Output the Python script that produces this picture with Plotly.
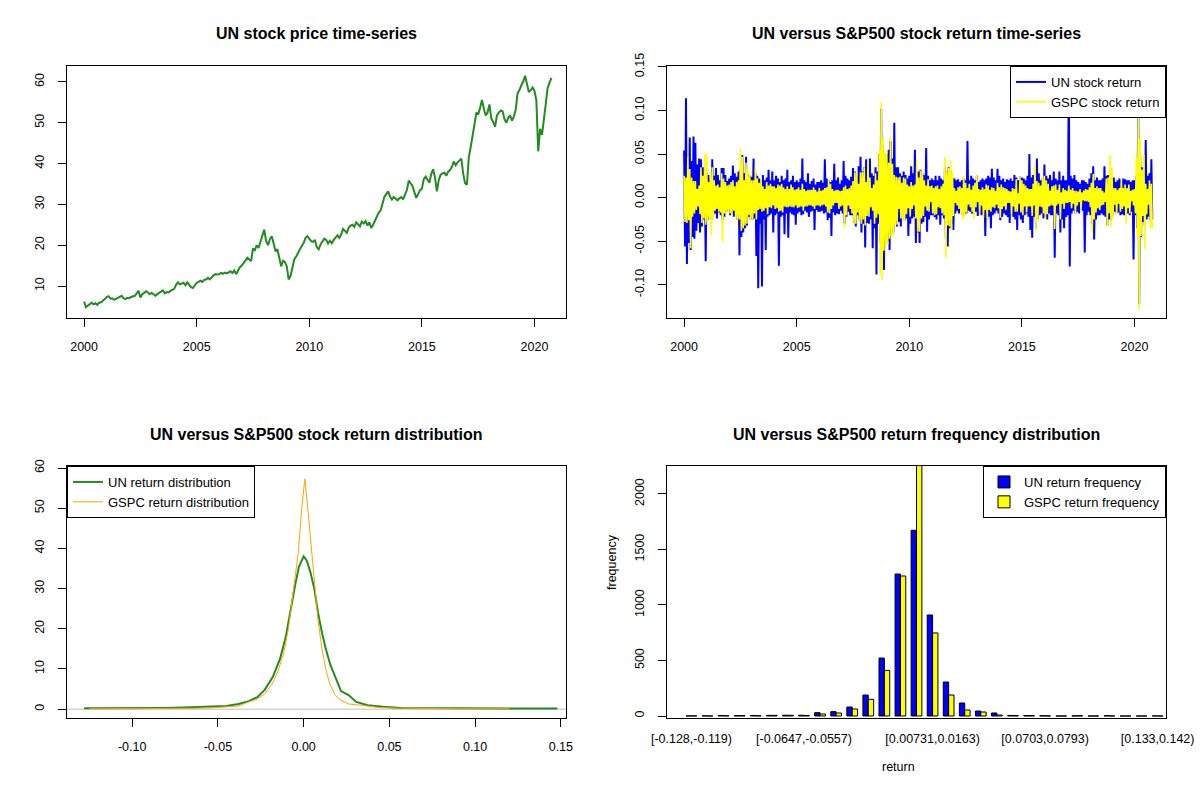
import pandas as pd
import plotly.graph_objects as go

# meses desde ene 2000 hasta oct 2020 (un valor por mes)
meses = pd.date_range("2000-01-01", "2020-10-01", freq="MS")
anio = list(meses.year + (meses.month - 1) / 12)

# precio UN aproximado de cada mes
precio_un = [
    6.2, 4.8, 5.2, 5.6, 5.9, 5.5, 5.8, 5.4, 5.9, 6.0, 6.3, 6.8,
    7.3, 7.5, 6.9, 7.0, 6.6, 6.9, 7.2, 7.4, 7.6, 7.0, 6.8, 7.1,
    7.0, 7.3, 7.4, 7.6, 8.2, 8.8, 7.2, 8.0, 8.3, 8.7, 8.4, 8.0,
    8.3, 7.9, 7.6, 8.0, 8.4, 8.6, 8.9, 8.2, 8.5, 8.4, 8.8, 9.0,
    9.3, 10.3, 10.9, 10.4, 10.6, 10.8, 10.2, 10.9, 10.3, 9.7, 9.5, 10.3,
    10.8, 11.0, 11.3, 11.0, 11.5, 11.6, 12.0, 11.6, 12.2, 12.6, 12.9, 12.8,
    12.9, 13.2, 13.0, 13.3, 13.1, 13.4, 13.6, 13.2, 13.8, 12.9, 13.9, 14.6,
    15.0, 15.6, 16.4, 16.9, 16.5, 16.1, 19.2, 18.8, 20.0, 19.3, 20.9, 22.5,
    23.8, 21.0, 20.0, 21.5, 22.2, 20.4, 18.5, 19.0, 16.4, 14.8, 16.2, 15.9,
    14.8, 11.6, 12.5, 14.5, 16.5, 17.2, 18.3, 19.0, 19.8, 20.5, 21.8, 22.2,
    21.6, 21.0, 20.8, 21.3, 19.5, 19.0, 20.2, 20.8, 21.6, 21.3, 20.4, 21.1,
    20.5, 21.3, 21.9, 22.4, 21.8, 22.6, 24.0, 23.6, 23.0, 24.3, 24.8, 25.0,
    24.5, 25.6, 25.0, 24.6, 25.8, 25.3, 25.9, 24.8, 25.6, 24.2, 25.0, 26.0,
    26.8, 28.0, 28.5, 30.5, 31.8, 32.5, 33.2, 31.9, 31.2, 31.8, 31.3, 31.0,
    31.5, 31.8, 31.2, 32.3, 33.5, 35.8, 35.2, 34.5, 33.0, 31.6, 32.5, 33.5,
    33.8, 36.2, 36.8, 36.0, 35.3, 37.5, 38.6, 36.5, 33.2, 36.0, 37.3, 37.6,
    37.8, 37.0, 38.0, 38.4, 39.2, 40.5, 39.6, 40.3, 40.8, 41.2, 37.6, 35.2,
    34.8, 41.5, 44.0, 46.5, 49.5, 52.5, 52.0, 53.6, 55.6, 53.5, 51.8, 52.5,
    54.5, 51.0, 50.2, 49.0, 51.8, 52.5, 53.0, 52.8, 50.9, 50.0, 51.2, 51.8,
    50.5, 51.5, 53.2, 57.2, 58.0, 59.2, 60.1, 61.5, 59.5, 57.5, 58.0, 58.6,
    57.8, 55.5, 43.0, 48.5, 47.0, 51.5, 54.5, 58.5, 59.8, 61.0,
]

# retornos diarios: maximo y minimo de cada mes (en %)
un_max = [
    5.4, 11.4, 4.6, 6.9, 4.2, 7.0, 6.3, 3.8, 4.5, 4.4, 3.5, 2.8,
    2.8, 2.6, 2.2, 4.4, 2.5, 3.4, 2.6, 2.0, 3.4, 3.4, 2.6, 1.9,
    2.2, 2.5, 3.7, 2.8, 2.4, 3.0, 3.2, 4.9, 2.8, 4.7, 2.7, 2.5,
    2.4, 4.5, 2.8, 2.5, 2.2, 2.0, 2.6, 2.0, 2.3, 3.2, 2.0, 3.0,
    2.0, 2.5, 2.2, 1.8, 2.5, 2.0, 2.2, 3.2, 1.8, 2.0, 2.5, 1.8,
    2.0, 1.8, 2.2, 4.5, 2.0, 1.8, 2.8, 1.6, 1.9, 2.2, 1.5, 1.8,
    1.8, 2.0, 1.7, 4.4, 2.2, 2.0, 1.8, 2.0, 3.9, 2.0, 2.3, 1.6,
    2.0, 4.2, 2.5, 2.2, 2.0, 2.4, 3.4, 3.0, 2.5, 3.6, 4.7, 3.0,
    3.5, 4.4, 3.0, 4.5, 2.8, 2.5, 3.5, 3.0, 5.0, 10.2, 6.0, 4.0,
    5.0, 5.5, 6.5, 4.5, 8.6, 3.5, 3.5, 2.8, 2.5, 3.0, 2.6, 2.2,
    2.5, 3.6, 2.8, 5.5, 3.0, 3.0, 3.2, 2.8, 2.6, 5.7, 2.5, 2.0,
    2.2, 2.0, 2.5, 2.0, 2.5, 2.2, 2.0, 3.5, 3.0, 3.5, 3.0, 2.3,
    2.2, 2.0, 2.1, 1.8, 2.0, 2.2, 2.0, 6.5, 2.0, 2.5, 2.2, 2.0,
    2.5, 1.8, 2.0, 2.2, 2.0, 2.2, 2.5, 2.3, 3.3, 2.3, 2.0, 3.3,
    2.5, 2.0, 2.2, 1.8, 2.1, 2.0, 2.2, 1.9, 2.6, 2.3, 2.0, 2.4,
    2.3, 2.2, 2.0, 2.5, 5.0, 2.3, 2.6, 3.0, 4.5, 2.8, 2.0, 2.2,
    3.8, 2.5, 2.2, 2.6, 2.0, 3.0, 2.2, 2.0, 3.0, 2.0, 2.5, 2.0,
    2.0, 14.0, 2.5, 2.2, 2.6, 2.0, 1.8, 1.6, 2.0, 2.0, 1.8, 1.6,
    2.2, 2.8, 3.6, 2.0, 2.3, 2.0, 2.0, 2.2, 3.6, 2.5, 2.6, 2.6,
    2.4, 2.3, 1.8, 2.0, 2.2, 2.0, 2.2, 2.1, 2.0, 2.0, 1.8, 2.0,
    2.0, 2.5, 10.5, 5.0, 3.5, 3.0, 6.6, 2.5, 2.8, 4.4,
]
un_min = [
    -5.6, -7.6, -5.2, -6.0, -4.5, -4.7, -3.8, -2.9, -4.0, -3.3, -2.5, -7.3,
    -2.6, -2.3, -2.5, -2.0, -1.8, -2.4, -1.7, -2.0, -2.6, -2.2, -1.6, -1.5,
    -2.0, -1.8, -2.2, -2.0, -2.5, -6.6, -4.5, -4.0, -3.5, -3.2, -2.2, -2.5,
    -2.5, -2.4, -6.7, -10.4, -3.0, -10.2, -2.5, -6.0, -2.2, -2.0, -1.8, -4.0,
    -2.0, -1.8, -7.8, -2.2, -2.0, -4.2, -1.8, -4.6, -1.7, -1.9, -2.0, -3.1,
    -1.8, -1.6, -2.0, -1.9, -1.5, -1.7, -2.2, -1.6, -1.5, -3.7, -1.4, -1.6,
    -1.6, -1.5, -1.8, -1.7, -2.6, -2.3, -4.4, -1.7, -2.0, -1.8, -1.9, -1.5,
    -1.8, -3.0, -2.2, -1.6, -2.0, -2.0, -2.9, -3.3, -2.0, -2.6, -4.0, -3.0,
    -5.7, -2.9, -3.0, -2.5, -5.8, -3.5, -8.8, -3.0, -5.0, -6.5, -8.3, -4.5,
    -5.0, -6.0, -4.0, -4.0, -3.0, -3.3, -2.8, -3.3, -2.2, -2.6, -2.4, -4.4,
    -3.0, -2.4, -2.2, -5.2, -4.0, -5.2, -3.0, -2.8, -2.2, -3.9, -2.5, -2.0,
    -2.0, -2.2, -2.5, -2.0, -3.1, -2.0, -2.4, -4.8, -5.6, -3.5, -3.0, -3.7,
    -1.8, -1.5, -1.8, -1.4, -2.0, -1.9, -1.8, -1.5, -1.6, -1.8, -1.9, -1.6,
    -2.1, -1.8, -2.0, -2.0, -4.4, -2.5, -2.2, -3.5, -2.0, -1.8, -1.5, -1.8,
    -2.6, -2.2, -1.8, -2.0, -2.2, -2.9, -2.0, -2.2, -2.5, -3.7, -2.0, -2.5,
    -2.9, -2.0, -1.8, -2.2, -3.7, -4.6, -2.2, -3.5, -2.5, -2.0, -1.8, -2.4,
    -2.2, -2.5, -1.8, -2.0, -2.0, -6.9, -1.8, -2.0, -4.0, -2.5, -3.5, -2.2,
    -2.0, -7.9, -1.8, -1.5, -1.8, -1.6, -1.8, -1.4, -1.5, -6.3, -2.0, -1.6,
    -2.0, -3.0, -4.8, -2.5, -2.0, -2.0, -1.8, -2.0, -2.2, -3.2, -2.5, -2.6,
    -2.0, -1.6, -1.8, -1.7, -2.0, -1.9, -2.0, -2.1, -1.8, -2.0, -1.6, -7.1,
    -2.0, -3.5, -12.2, -4.5, -2.8, -3.2, -2.5, -2.2, -2.6, -2.5,
]
gspc_max = [
    2.5, 2.3, 4.7, 3.3, 2.3, 1.9, 1.9, 1.0, 1.4, 3.5, 2.5, 5.0,
    4.9, 1.8, 2.8, 3.5, 2.0, 1.4, 1.5, 1.2, 2.8, 2.2, 1.8, 1.4,
    1.5, 1.8, 2.0, 1.3, 1.8, 2.0, 5.6, 4.7, 2.0, 4.0, 3.2, 2.5,
    2.0, 2.0, 3.5, 2.2, 1.7, 2.2, 1.3, 1.0, 1.8, 1.4, 1.6, 1.3,
    1.3, 1.1, 1.5, 1.4, 1.6, 1.2, 1.0, 1.3, 1.0, 1.5, 1.2, 0.9,
    1.0, 1.2, 0.9, 1.6, 1.0, 0.8, 0.9, 0.9, 0.9, 1.2, 0.9, 0.7,
    1.1, 0.8, 0.9, 1.1, 1.2, 2.1, 1.6, 1.0, 0.8, 0.9, 0.9, 0.8,
    0.8, 1.2, 1.4, 1.0, 1.1, 1.4, 1.9, 2.9, 2.9, 1.6, 2.9, 2.9,
    3.5, 1.8, 4.2, 2.3, 1.1, 1.5, 2.8, 2.0, 5.4, 10.9, 6.9, 5.1,
    5.4, 4.0, 7.1, 3.9, 2.6, 2.4, 2.3, 2.4, 1.7, 2.3, 2.2, 1.5,
    1.3, 1.8, 1.4, 1.5, 4.4, 2.3, 3.1, 2.9, 2.0, 1.4, 2.1, 1.3,
    1.4, 1.1, 1.3, 1.4, 1.0, 1.3, 1.6, 4.7, 3.0, 3.4, 4.3, 2.9,
    1.1, 0.8, 1.2, 1.3, 1.1, 2.5, 1.7, 1.1, 1.6, 0.9, 1.4, 1.7,
    2.5, 1.0, 0.9, 1.2, 1.0, 1.5, 1.4, 0.9, 1.2, 1.1, 0.8, 1.7,
    1.2, 1.5, 1.2, 1.1, 1.0, 0.8, 0.7, 1.1, 1.0, 2.1, 0.5, 2.4,
    2.0, 1.6, 1.4, 1.1, 1.0, 1.0, 1.6, 3.9, 1.9, 1.7, 1.4, 2.4,
    2.5, 2.0, 1.6, 0.8, 1.3, 1.4, 1.5, 0.9, 1.5, 0.6, 1.1, 0.9,
    0.8, 1.4, 0.9, 1.1, 0.8, 0.8, 0.7, 1.0, 0.6, 0.8, 1.0, 0.9,
    1.2, 1.7, 2.7, 1.1, 1.3, 1.1, 1.1, 0.8, 0.6, 2.2, 2.3, 4.9,
    3.4, 1.1, 1.1, 0.9, 1.1, 2.1, 1.1, 1.5, 1.1, 1.5, 0.8, 0.9,
    1.0, 4.6, 9.4, 6.8, 3.2, 4.9, 1.6, 1.0, 2.0, 1.6,
]
gspc_min = [
    -2.8, -2.9, -2.6, -5.8, -2.2, -1.8, -1.4, -1.0, -1.9, -2.9, -2.4, -3.1,
    -2.8, -2.3, -4.3, -2.4, -1.5, -1.3, -1.6, -1.7, -5.1, -1.8, -1.9, -1.5,
    -1.8, -1.9, -1.5, -2.3, -2.5, -2.5, -3.8, -3.5, -3.2, -3.0, -2.0, -2.6,
    -2.5, -1.8, -2.5, -1.4, -1.3, -1.6, -1.5, -1.2, -1.9, -1.1, -1.2, -0.9,
    -1.3, -1.2, -1.6, -1.5, -1.7, -1.0, -1.1, -1.1, -1.0, -1.1, -1.1, -0.9,
    -1.2, -1.1, -1.0, -1.5, -1.0, -1.0, -0.9, -0.9, -1.0, -1.3, -0.9, -0.9,
    -1.0, -0.9, -0.8, -1.0, -1.7, -1.8, -1.3, -0.9, -0.6, -0.6, -1.3, -1.0,
    -0.9, -3.5, -2.0, -0.9, -1.3, -1.8, -3.0, -3.0, -1.7, -2.6, -3.0, -2.5,
    -3.2, -2.1, -2.2, -1.1, -1.5, -3.0, -2.3, -1.9, -8.8, -9.4, -6.1, -5.6,
    -5.3, -4.7, -4.4, -4.3, -3.1, -3.1, -1.3, -2.4, -2.6, -2.7, -1.9, -1.2,
    -2.2, -1.3, -0.9, -2.4, -3.9, -3.9, -2.4, -2.1, -1.0, -1.5, -1.6, -0.5,
    -1.8, -2.0, -1.9, -1.1, -1.2, -1.8, -2.0, -6.9, -3.2, -3.3, -3.7, -2.1,
    -0.6, -0.9, -1.3, -1.7, -2.5, -2.2, -1.7, -0.8, -1.1, -1.6, -2.4, -1.1,
    -0.5, -1.8, -0.9, -2.3, -1.4, -2.5, -1.4, -1.6, -1.1, -1.2, -0.8, -1.2,
    -2.3, -1.3, -1.0, -1.4, -0.6, -0.6, -2.0, -1.0, -1.6, -1.6, -0.7, -1.7,
    -2.0, -1.0, -1.7, -1.0, -1.0, -2.1, -0.9, -3.9, -2.6, -1.0, -1.1, -1.8,
    -2.5, -1.9, -1.0, -0.9, -0.9, -3.6, -0.9, -0.7, -2.5, -0.7, -1.3, -0.6,
    -0.6, -0.5, -1.2, -0.7, -1.8, -0.9, -0.5, -1.5, -0.3, -0.4, -0.4, -0.5,
    -1.1, -4.1, -2.5, -1.7, -1.2, -1.4, -0.9, -0.8, -0.5, -3.3, -1.8, -3.3,
    -2.5, -0.8, -1.9, -0.7, -1.6, -1.3, -1.0, -3.0, -1.2, -1.8, -0.4, -0.9,
    -1.8, -4.4, -12.8, -4.4, -2.1, -5.9, -1.9, -0.8, -3.5, -3.5,
]

# densidad de los retornos
un_dens_x = [-0.128, -0.110, -0.095, -0.087, -0.080, -0.070, -0.060, -0.054, -0.045,
             -0.038, -0.032, -0.027, -0.0227, -0.018, -0.0138, -0.0104, -0.0076,
             -0.0049, -0.0027, 0.0, 0.0018, 0.004, 0.0062, 0.0084, 0.0107, 0.0129,
             0.0156, 0.0184, 0.0218, 0.0262, 0.0307, 0.0373, 0.046, 0.057, 0.068,
             0.09, 0.12, 0.148]
un_dens_y = [0.2, 0.2, 0.25, 0.35, 0.3, 0.4, 0.5, 0.7, 0.8, 1.3, 2.0, 3.0, 4.8, 8.0,
             12.5, 18.0, 25.0, 31.0, 35.5, 38.0, 37.0, 34.0, 30.0, 24.0, 19.0, 15.0,
             11.0, 8.0, 4.5, 3.5, 1.8, 1.0, 0.6, 0.3, 0.25, 0.2, 0.15, 0.15]
gspc_dens_x = [-0.125, -0.11, -0.095, -0.08, -0.065, -0.055, -0.047, -0.038, -0.032,
               -0.027, -0.0227, -0.018, -0.0149, -0.0116, -0.0089, -0.006, -0.0031,
               -0.0011, 0.0007, 0.0024, 0.0044, 0.0067, 0.0084, 0.0107, 0.0129,
               0.0151, 0.0184, 0.0218, 0.026, 0.035, 0.044, 0.055, 0.07, 0.09, 0.12]
gspc_dens_y = [0.1, 0.1, 0.15, 0.2, 0.2, 0.3, 0.5, 0.8, 1.8, 2.5, 3.8, 6.5, 9.5, 14.0,
               20.0, 29.0, 39.0, 50.0, 57.3, 50.0, 40.0, 30.0, 22.0, 15.0, 10.0, 6.5,
               3.5, 2.2, 1.3, 0.9, 0.4, 0.25, 0.15, 0.1, 0.1]

# frecuencias por intervalo de retorno
intervalos = [
    "[-0.128,-0.119)", "[-0.119,-0.11)", "[-0.11,-0.101)", "[-0.101,-0.0917)",
    "[-0.0917,-0.0827)", "[-0.0827,-0.0737)", "[-0.0737,-0.0647)", "[-0.0647,-0.0557)",
    "[-0.0557,-0.0467)", "[-0.0467,-0.0377)", "[-0.0377,-0.0287)", "[-0.0287,-0.0197)",
    "[-0.0197,-0.0107)", "[-0.0107,-0.0017)", "[-0.0017,0.00731)", "[0.00731,0.0163)",
    "[0.0163,0.0253)", "[0.0253,0.0343)", "[0.0343,0.0433)", "[0.0433,0.0523)",
    "[0.0523,0.0613)", "[0.0613,0.0703)", "[0.0703,0.0793)", "[0.0793,0.0883)",
    "[0.0883,0.0973)", "[0.0973,0.106)", "[0.106,0.115)", "[0.115,0.124)",
    "[0.124,0.133)", "[0.133,0.142)",
]
frec_un = [1, 1, 5, 3, 5, 6, 7, 7, 30, 39, 81, 189, 522, 1279, 1673,
           910, 306, 117, 45, 27, 5, 4, 3, 0, 1, 0, 3, 0, 0, 1]
frec_gspc = [1, 0, 2, 4, 2, 6, 7, 5, 18, 27, 63, 150, 411, 1261, 2256,
             748, 189, 54, 36, 9, 4, 4, 1, 0, 3, 0, 1, 0, 0, 0]

# etiquetas de los ejes
anios_ticks = [2000, 2005, 2010, 2015, 2020]
ret_ticks = [-0.10, -0.05, 0.00, 0.05, 0.10, 0.15]
ret_labels = ["-0.10", "-0.05", "0.00", "0.05", "0.10", "0.15"]
intervalos_visibles = [intervalos[0], intervalos[7], intervalos[15], intervalos[22], intervalos[29]]


def zigzag(t, alto, bajo):
    # alterna maximo y minimo del mes para que la linea llene la banda
    x, y = [], []
    for ti, a, b in zip(t, alto, bajo):
        x += [ti, ti + 1 / 24]
        y += [a / 100, b / 100]
    return x, y


fuente = "Liberation Sans, Arial, sans-serif"
fig = go.Figure()

fig.add_trace(go.Scatter(x=anio, y=precio_un, mode="lines", line=dict(color="#228B22", width=2),
                         showlegend=False, xaxis="x", yaxis="y"))

x_un, y_un = zigzag(anio, un_max, un_min)
x_gs, y_gs = zigzag(anio, gspc_max, gspc_min)
fig.add_trace(go.Scatter(x=x_un, y=y_un, mode="lines", name="UN stock return",
                         line=dict(color="#0000FF", width=2), xaxis="x2", yaxis="y2", legend="legend"))
fig.add_trace(go.Scatter(x=x_gs, y=y_gs, mode="lines", name="GSPC stock return",
                         line=dict(color="#FFFF00", width=1.6), xaxis="x2", yaxis="y2", legend="legend"))

fig.add_trace(go.Scatter(x=un_dens_x, y=un_dens_y, mode="lines", name="UN return distribution",
                         line=dict(color="#228B22", width=2), xaxis="x3", yaxis="y3", legend="legend2"))
fig.add_trace(go.Scatter(x=gspc_dens_x, y=gspc_dens_y, mode="lines", name="GSPC return distribution",
                         line=dict(color="#FFA500", width=1), xaxis="x3", yaxis="y3", legend="legend2"))

fig.add_trace(go.Bar(x=intervalos, y=frec_un, name="UN return frequency",
                     marker=dict(color="#0000FF", line=dict(color="black", width=1)),
                     xaxis="x4", yaxis="y4", legend="legend3"))
fig.add_trace(go.Bar(x=intervalos, y=frec_gspc, name="GSPC return frequency",
                     marker=dict(color="#FFFF00", line=dict(color="black", width=1)),
                     xaxis="x4", yaxis="y4", legend="legend3"))

eje = dict(showline=True, mirror=True, linecolor="black", linewidth=1, showgrid=False,
           zeroline=False, ticks="outside", ticklen=8, tickcolor="black", automargin=False,
           tickfont=dict(family=fuente, size=12.5, color="black"), ticklabelstandoff=9)
eje_y = dict(eje, tickangle=-90)

izq = [67 / 1200, 566 / 1200]
der = [667 / 1200, 1166 / 1200]
arriba = [1 - 318 / 800, 1 - 66 / 800]
abajo = [1 - 718 / 800, 1 - 466 / 800]
caja_leyenda = dict(bordercolor="black", borderwidth=1, bgcolor="white",
                    font=dict(family=fuente, size=13, color="black"), tracegroupgap=0)

fig.update_layout(
    width=1200, height=800, margin=dict(l=0, r=0, t=0, b=0, autoexpand=False),
    paper_bgcolor="white", plot_bgcolor="white", barmode="group", bargap=1 / 3, bargroupgap=0,
    font=dict(family=fuente, size=12.5, color="black"),
    xaxis=dict(eje, domain=izq, anchor="y", range=[1999.24, 2021.4], tickvals=anios_ticks),
    yaxis=dict(eje_y, domain=arriba, anchor="x", range=[2.16, 63.9], tickvals=[10, 20, 30, 40, 50, 60]),
    xaxis2=dict(eje, domain=der, anchor="y2", range=[1999.24, 2021.4], tickvals=anios_ticks),
    yaxis2=dict(eje_y, domain=arriba, anchor="x2", range=[-0.138, 0.151],
                tickvals=ret_ticks, ticktext=ret_labels),
    xaxis3=dict(eje, domain=izq, anchor="y3", range=[-0.138, 0.153],
                tickvals=ret_ticks, ticktext=ret_labels),
    yaxis3=dict(eje_y, domain=abajo, anchor="x3", range=[-2.2, 60.5], tickvals=[0, 10, 20, 30, 40, 50, 60]),
    xaxis4=dict(eje, domain=der, anchor="y4", type="category", range=[-1.52, 29.52],
                ticks="", tickvals=intervalos_visibles, tickangle=0),
    yaxis4=dict(eje_y, domain=abajo, anchor="x4", range=[-18, 2252], tickvals=[0, 500, 1000, 1500, 2000]),
    legend=dict(caja_leyenda, x=1166 / 1200, y=1 - 66 / 800, xanchor="right", yanchor="top"),
    legend2=dict(caja_leyenda, x=67 / 1200, y=1 - 466 / 800, xanchor="left", yanchor="top"),
    legend3=dict(caja_leyenda, x=1166 / 1200, y=1 - 466 / 800, xanchor="right", yanchor="top"),
)

# linea gris en cero de la densidad
fig.add_shape(type="line", xref="x3 domain", x0=0, x1=1, yref="y3", y0=0, y1=0,
              line=dict(color="#BEBEBE", width=1), layer="below")

titulos = [
    ("UN stock price time-series", 316.5, 34),
    ("UN versus S&P500 stock return time-series", 916.5, 34),
    ("UN versus S&P500 stock return distribution", 316.5, 434),
    ("UN versus S&P500 return frequency distribution", 916.5, 434),
]
for texto, px_x, px_y in titulos:
    fig.add_annotation(text=texto, x=px_x / 1200, y=1 - px_y / 800, xref="paper", yref="paper",
                       showarrow=False, xanchor="center", yanchor="middle",
                       font=dict(family=fuente, size=16, color="black", weight="bold"))

fig.add_annotation(text="return", x=916.5 / 1200, y=1 - 776 / 800, xref="paper", yref="paper",
                   showarrow=False, font=dict(family=fuente, size=12.5))
fig.add_annotation(text="frequency", x=612 / 1200, y=1 - 592 / 800, xref="paper", yref="paper",
                   showarrow=False, textangle=-90, font=dict(family=fuente, size=12.5))

# quitamos el margen del body para que la figura empiece en (0, 0)
fig.write_html("out.html", config={"displayModeBar": False},
               post_script="document.body.style.margin='0px';document.body.style.overflow='hidden';")
